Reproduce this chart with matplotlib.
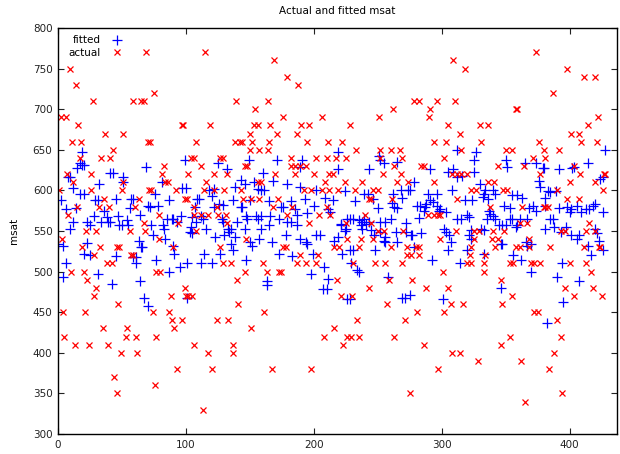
import matplotlib
matplotlib.use('Agg')
import matplotlib.pyplot as plt

# actual msat is recorded in steps of 10 -> list sample indices per level
actual_levels = [770, 760, 750, 740, 730, 720, 710, 700, 690, 680, 670, 660,
                 650, 640, 630, 620, 610, 600, 590, 580, 570, 560, 550, 540,
                 530, 520, 510, 500, 490, 480, 470, 460, 450, 440, 430, 420,
                 410, 400, 390, 380, 370, 360, 350, 340, 330]
actual_index = [
    [69, 115, 374],
    [169, 309],
    [9, 318, 398],
    [179, 411, 420],
    [14, 188],
    [75, 387],
    [27, 59, 65, 67, 139, 164, 278, 282, 296, 310],
    [154, 262, 291, 358, 359],
    [2, 6, 176, 206, 251, 290, 422],
    [16, 97, 98, 119, 153, 156, 166, 190, 196, 228, 305, 330, 336, 414],
    [37, 51, 150, 171, 187, 314, 401, 407],
    [11, 18, 70, 72, 108, 138, 142, 144, 152, 165, 195, 211, 222, 294, 303,
     331, 376, 409, 421],
    [43, 150, 157, 164, 233, 252, 260, 267, 315, 350, 355, 380, 392],
    [17, 34, 41, 104, 106, 127, 129, 182, 202, 210, 217, 225, 252, 269, 302,
     371, 381],
    [83, 112, 146, 148, 182, 185, 189, 194, 263, 284, 286, 344, 364, 403],
    [7, 26, 81, 102, 122, 132, 170, 185, 200, 212, 215, 254, 268, 308, 312,
     315, 320, 377, 408, 427, 428],
    [12, 51, 84, 86, 116, 156, 159, 209, 224, 238, 265, 274, 294, 336, 341,
     400, 420],
    [1, 26, 50, 71, 73, 92, 114, 122, 130, 143, 192, 198, 206, 212, 219, 232,
     246, 250, 323, 327, 348, 351, 390, 426],
    [36, 63, 99, 101, 145, 151, 157, 172, 243, 245, 261, 312, 398, 407],
    [15, 32, 40, 60, 106, 124, 168, 183, 210, 338, 363, 380, 381, 383],
    [8, 79, 106, 112, 117, 125, 131, 179, 204, 213, 240, 289, 294, 297, 299],
    [67, 94, 132, 196, 225, 245, 361, 367, 415],
    [22, 30, 56, 68, 108, 250, 255, 270, 311, 325, 329, 340, 349, 393, 396,
     413, 420],
    [3, 79, 147, 226, 237, 246, 299, 325, 339, 344, 368],
    [19, 33, 46, 48, 90, 127, 176, 178, 216, 220, 235, 260, 273, 280, 282,
     323, 342, 358, 361, 368, 385, 411, 423, 424],
    [28, 57, 59, 189, 203, 273, 276, 282, 322, 334],
    [38, 42, 129, 135, 160, 187, 194, 202, 231, 248, 256, 269, 320, 323, 333,
     353, 356, 370, 372, 377, 400, 413],
    [10, 20, 77, 80, 146, 163, 173, 174, 301, 333, 417],
    [23, 140, 218, 259, 277, 346],
    [30, 99, 243, 288, 305, 396, 418],
    [28, 88, 100, 102, 105, 221, 230, 355, 403, 425],
    [47, 141, 257, 307, 317, 347],
    [4, 21, 74, 87, 161, 281, 302, 372, 375],
    [89, 97, 124, 133, 234, 271, 390],
    [35, 54, 91, 151, 216],
    [5, 53, 61, 77, 208, 226, 229, 235, 263, 353, 393],
    [13, 24, 39, 106, 137, 223, 286, 346],
    [49, 62, 117, 137, 308, 314, 388],
    [328, 362],
    [93, 120, 167, 198, 297, 384],
    [44],
    [76],
    [46, 275, 394],
    [365],
    [113],
]

# fitted msat: (sample index, value)
fitted_points = [
    (19, 647), (17, 634), (19, 631), (20, 631), (15, 627), (8, 617), (9, 617),
    (12, 603), (17, 596), (20, 596), (2, 588), (6, 577), (14, 578), (9, 553),
    (12, 561), (23, 561), (25, 557), (0, 534), (4, 532), (6, 510), (4, 493),
    (23, 535), (20, 522), (25, 520), (31, 497), (28, 569), (32, 608), (31, 588),
    (29, 588), (34, 561), (36, 575), (38, 567), (39, 561), (41, 561), (45, 590),
    (41, 621), (43, 621), (45, 519), (42, 485), (47, 569), (48, 557), (50, 557),
    (55, 557), (51, 617), (51, 610), (54, 563), (57, 590), (59, 590), (56, 578),
    (59, 518), (61, 518), (61, 510), (63, 538), (64, 570), (65, 530), (66, 530),
    (64, 488), (67, 467), (70, 458), (69, 629), (70, 581), (72, 579), (73, 557),
    (74, 545), (76, 596), (77, 514), (78, 581), (81, 610), (82, 557), (83, 553),
    (84, 540), (85, 565), (87, 588), (89, 565), (90, 565), (90, 531), (91, 522),
    (87, 500), (95, 506), (93, 561), (96, 569), (99, 637), (100, 603), (97, 603),
    (101, 510), (101, 467), (103, 549), (105, 547), (107, 580), (104, 555),
    (125, 634), (132, 626), (149, 637), (171, 637), (191, 637), (189, 629),
    (143, 613), (146, 608), (160, 621), (168, 612), (179, 608), (138, 604),
    (153, 610), (156, 602), (159, 601), (161, 601), (189, 604), (193, 590),
    (202, 601), (118, 600), (122, 602), (109, 590), (110, 590), (120, 593),
    (122, 580), (129, 582), (126, 583), (137, 588), (150, 588), (165, 587),
    (143, 580), (144, 580), (174, 580), (176, 580), (182, 587), (185, 577),
    (195, 572), (200, 581), (209, 591), (215, 588), (211, 577), (105, 567),
    (112, 569), (113, 565), (108, 561), (116, 553), (123, 542), (128, 565),
    (129, 561), (133, 553), (135, 552), (134, 549), (130, 545), (140, 561),
    (147, 569), (148, 565), (155, 569), (156, 565), (159, 569), (166, 569),
    (173, 565), (165, 557), (146, 553), (159, 553), (179, 561), (182, 561),
    (187, 570), (187, 557), (138, 542), (135, 534), (137, 527), (150, 536),
    (152, 532), (157, 540), (167, 536), (178, 545), (189, 540), (194, 536),
    (195, 534), (202, 545), (205, 545), (216, 538), (114, 522), (127, 522),
    (173, 522), (183, 519), (199, 522), (112, 511), (120, 511), (147, 514),
    (208, 506), (211, 491), (198, 497), (163, 489), (163, 484), (207, 479),
    (210, 479),
    (219, 647), (312, 650), (251, 642), (252, 638), (255, 634), (265, 635),
    (243, 626), (219, 626), (291, 626), (305, 623), (309, 626), (312, 616),
    (316, 618), (325, 637), (325, 623), (278, 610), (274, 600), (275, 600),
    (224, 599), (268, 600), (262, 596), (242, 596), (239, 596), (246, 590),
    (289, 596), (296, 596), (308, 600), (318, 588), (232, 587), (250, 578),
    (261, 585), (263, 579), (265, 578), (269, 591), (281, 581), (283, 581),
    (287, 579), (288, 583), (286, 575), (291, 588), (293, 586), (296, 581),
    (298, 575), (299, 577), (213, 573), (226, 565), (228, 565), (231, 565),
    (221, 559), (235, 563), (238, 561), (239, 565), (243, 561), (252, 561),
    (256, 561), (260, 565), (272, 560), (282, 566), (303, 573), (312, 565),
    (315, 565), (320, 570), (321, 567), (219, 542), (224, 550), (225, 553),
    (221, 557), (237, 557), (238, 553), (241, 559), (245, 551), (247, 545),
    (252, 549), (255, 538), (256, 542), (264, 549), (272, 549), (276, 545),
    (277, 545), (284, 547), (302, 553), (303, 549), (306, 545), (307, 536),
    (321, 545), (323, 540), (222, 522), (228, 527), (231, 527), (248, 527),
    (256, 536), (265, 536), (278, 530), (305, 526), (320, 526), (229, 510),
    (234, 502), (235, 500), (258, 493), (292, 514), (314, 510), (226, 466),
    (228, 466), (269, 467), (271, 467), (275, 471), (301, 466),
    (428, 650), (327, 647), (350, 638), (351, 629), (365, 634), (374, 634),
    (379, 627), (380, 627), (392, 626), (402, 627), (403, 629), (414, 634),
    (424, 614), (426, 616), (376, 612), (377, 604), (330, 608), (334, 600),
    (333, 596), (340, 600), (342, 596), (336, 590), (332, 592), (324, 588),
    (355, 594), (359, 594), (363, 591), (349, 581), (353, 578), (368, 578),
    (371, 581), (374, 575), (381, 591), (383, 599), (385, 598), (389, 599),
    (381, 581), (392, 578), (398, 579), (401, 577), (400, 573), (406, 581),
    (409, 573), (413, 577), (415, 577), (418, 581), (420, 583), (426, 574),
    (337, 575), (338, 571), (340, 569), (342, 565), (335, 565), (331, 553),
    (333, 551), (323, 551), (345, 557), (347, 557), (350, 557), (353, 565),
    (355, 565), (361, 565), (367, 565), (358, 555), (359, 557), (385, 565),
    (387, 565), (381, 553), (388, 555), (393, 549), (397, 555), (401, 545),
    (406, 540), (407, 545), (414, 532), (420, 553), (421, 547), (423, 538),
    (346, 534), (347, 534), (366, 536), (367, 532), (370, 534), (417, 520),
    (426, 526), (333, 522), (356, 520), (362, 514), (370, 500), (394, 510),
    (390, 493), (407, 488), (346, 480), (395, 463), (382, 437),
]

actual_x = []
actual_y = []
for level, idx in zip(actual_levels, actual_index):
    actual_x += idx
    actual_y += [level] * len(idx)

fitted_x = [p[0] for p in fitted_points]
fitted_y = [p[1] for p in fitted_points]

fig = plt.figure(figsize=(6.2, 4.54), dpi=100)
ax = fig.add_axes([58 / 620, 20 / 454, 559 / 620, 406 / 454])

ax.plot(fitted_x, fitted_y, '+', color='#0000ff', ms=7, mew=0.9,
        linestyle='none', label='fitted')
ax.plot(actual_x, actual_y, 'x', color='#ff0000', ms=5, mew=0.9,
        linestyle='none', label='actual')

ax.set_xlim(0, 437)
ax.set_ylim(300, 800)
ax.set_xticks([0, 100, 200, 300, 400])
ax.set_yticks(range(300, 801, 50))
ax.tick_params(direction='in', top=True, right=True, length=4, width=0.8,
               labelsize=7.5, colors='#222222', pad=4)
for s in ax.spines.values():
    s.set_linewidth(1.0)

ax.set_ylabel('msat', fontsize=7.5, labelpad=10)
ax.set_title('Actual and fitted msat', fontsize=7.5, pad=10)

ax.legend(loc='upper left', bbox_to_anchor=(0.01, 0.995), markerfirst=False,
          frameon=False, fontsize=7.5, borderpad=0, labelspacing=0.25,
          handlelength=1.2, handletextpad=0.9)

fig.savefig('out.png', dpi=100)
